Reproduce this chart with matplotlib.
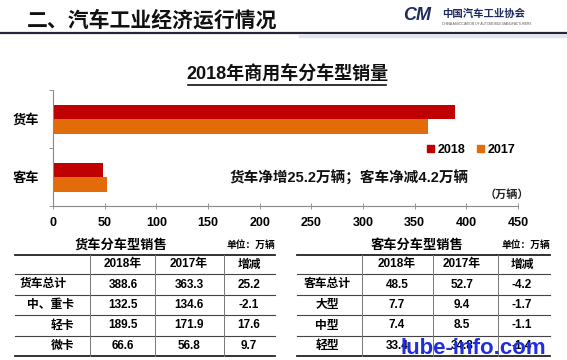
import matplotlib
matplotlib.use("Agg")
import matplotlib.pyplot as plt
from matplotlib.patches import Patch

plt.rcParams['font.family'] = ['Liberation Sans', 'Noto Sans CJK SC', 'DejaVu Sans']

# 数据
categories = ['货车', '客车']
sales_2018 = [388.6, 48.5]
sales_2017 = [363.3, 52.7]
x_ticks = [0, 50, 100, 150, 200, 250, 300, 350, 400, 450]

table_cols = ['2018年', '2017年', '增减']
truck_rows = ['货车总计', '中、重卡', '轻卡', '微卡']
truck_2018 = ['388.6', '132.5', '189.5', '66.6']
truck_2017 = ['363.3', '134.6', '171.9', '56.8']
truck_diff = ['25.2', '-2.1', '17.6', '9.7']
bus_rows = ['客车总计', '大型', '中型', '轻型']
bus_2018 = ['48.5', '7.7', '7.4', '33.4']
bus_2017 = ['52.7', '9.4', '8.5', '34.8']
bus_diff = ['-4.2', '-1.7', '-1.1', '-1.4']

C18 = '#C00000'
C17 = '#E36C0A'
W, H = 567, 360

fig = plt.figure(figsize=(W / 100, H / 100), dpi=100)

# 整张图的像素坐标层
bg = fig.add_axes([0, 0, 1, 1])
bg.set_xlim(0, W)
bg.set_ylim(H, 0)
bg.axis('off')

# 页眉
bg.text(27, 20, '二、汽车工业经济运行情况', fontsize=15, fontweight='bold',
        va='center', ha='left', color='#111111')
bg.plot([0, W], [33, 33], color='#25253a', lw=1.6)
bg.plot([300, W], [35.5, 35.5], color='#dde5ee', lw=2.5)
bg.text(403, 15, 'CM', fontsize=13, fontweight='bold', style='italic',
        color='#1f2a60', va='center', ha='left')
bg.text(442, 14, '中国汽车工业协会', fontsize=7.5, fontweight='bold',
        color='#1f2a60', va='center', ha='left')
bg.text(442, 24, 'CHINA ASSOCIATION OF AUTOMOBILE MANUFACTURERS', fontsize=2.3,
        color='#555555', va='center', ha='left')

# 图表标题（带下划线）
bg.text(287, 75, '2018年商用车分车型销量', fontsize=13, fontweight='bold',
        va='center', ha='center', color='#111111')
bg.plot([188, 386], [85, 85], color='#111111', lw=1.2)

# 条形图
ax = fig.add_axes([53 / W, (H - 206) / H, 465 / W, 116 / H])
ax.set_facecolor('none')
y = list(range(len(categories)))
ax.barh([v - 0.125 for v in y], sales_2018, height=0.25, color=C18, label='2018')
ax.barh([v + 0.125 for v in y], sales_2017, height=0.25, color=C17, label='2017')
ax.set_ylim(1.5, -0.5)
ax.set_xlim(0, 450)
ax.set_xticks(x_ticks)
ax.set_xticklabels([str(t) for t in x_ticks], fontsize=9, fontweight='bold')
ax.tick_params(axis='x', direction='inout', length=4, width=0.6, color='#888888', pad=6)
ax.set_yticks([-0.5, 0.5, 1.5])
ax.set_yticklabels([])
ax.tick_params(axis='y', which='major', direction='out', length=3, width=0.6, color='#888888')
ax.set_yticks(y, minor=True)
ax.set_yticklabels(categories, minor=True, fontsize=9.5, fontweight='bold')
ax.tick_params(axis='y', which='minor', length=0, pad=10)
for s in ['top', 'right']:
    ax.spines[s].set_visible(False)
for s in ['left', 'bottom']:
    ax.spines[s].set_color('#888888')
    ax.spines[s].set_linewidth(0.8)

handles = [Patch(color=C18, label='2018'), Patch(color=C17, label='2017')]
ax.legend(handles=handles, loc='center', bbox_to_anchor=(471 / W, 1 - 150 / H),
          bbox_transform=fig.transFigure, ncol=2, frameon=False,
          handlelength=0.55, handleheight=0.55, handletextpad=0.3, columnspacing=0.9,
          prop={'weight': 'bold', 'size': 9})

ax.text(349 / W, 1 - 178 / H, '货车净增25.2万辆；客车净减4.2万辆', fontsize=10.5,
        fontweight='bold', va='center', ha='center', color='#111111',
        transform=fig.transFigure)
ax.text(507 / W, 1 - 195 / H, '（万辆）', fontsize=8, fontweight='bold', va='center',
        ha='center', color='#222222', transform=fig.transFigure)


def draw_table(x0, x1, vlines, col_x, label_x, title, title_x, rows, c18, c17, diff):
    bg.text(title_x, 245, title, fontsize=9.5, fontweight='bold', va='center', ha='center')
    bg.text(x1, 245, '单位：万辆', fontsize=7, fontweight='bold', va='center', ha='right')
    row_y = [255, 274, 295, 315, 336, 356]
    bg.plot([x0, x1], [row_y[0], row_y[0]], color='#222222', lw=1.3)
    bg.plot([x0, x1], [row_y[-1], row_y[-1]], color='#222222', lw=1.3)
    for ry in row_y[1:-1]:
        bg.plot([x0, x1], [ry, ry], color='#444444', lw=0.8)
    for vx in vlines:
        bg.plot([vx, vx], [row_y[0], row_y[-1]], color='#777777', lw=0.7)
    for cx, c in zip(col_x, table_cols):
        bg.text(cx, (row_y[0] + row_y[1]) / 2, c, fontsize=8.5, fontweight='bold',
                va='center', ha='center')
    for i, name in enumerate(rows):
        cy = (row_y[i + 1] + row_y[i + 2]) / 2
        lx, ha = label_x(i)
        bg.text(lx, cy, name, fontsize=8.5, fontweight='bold', va='center', ha=ha)
        for cx, v in zip(col_x, [c18[i], c17[i], diff[i]]):
            bg.text(cx, cy, v, fontsize=8.5, fontweight='bold', va='center', ha='center')


draw_table(15, 275, [90, 155, 224], [123, 189, 249],
           lambda i: (20, 'left') if i == 0 else (74, 'right'),
           '货车分车型销售', 121, truck_rows, truck_2018, truck_2017, truck_diff)
draw_table(297, 550, [362, 433, 498], [397, 462, 522],
           lambda i: (327, 'center'),
           '客车分车型销售', 417, bus_rows, bus_2018, bus_2017, bus_diff)

# 水印（参考图中压在表格最后一行上）
bg.text(400, 349, 'lube-info.com', fontsize=16, fontweight='bold', color='#1f2fe0',
        va='center', ha='left')

fig.savefig('out.png', dpi=100)
